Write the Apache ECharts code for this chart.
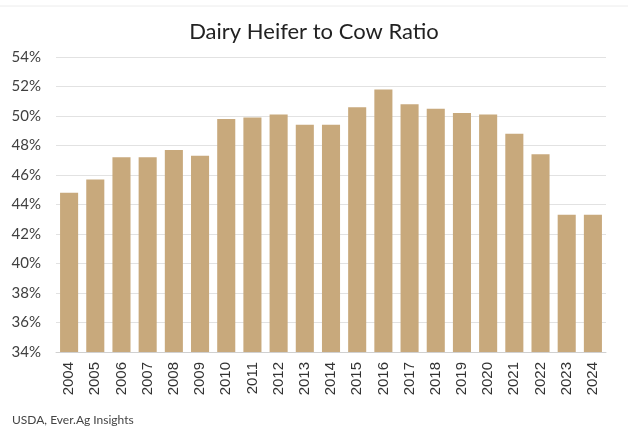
<!DOCTYPE html>
<html>
<head>
<meta charset="utf-8">
<script src="https://cdn.jsdelivr.net/npm/echarts@6/dist/echarts.min.js"></script>
<style>
  html, body { margin: 0; padding: 0; background: #fff; }
  #main { width: 628px; height: 432px; }
</style>
</head>
<body>
<div id="main"></div>
<script>
const years = ['2004', '2005', '2006', '2007', '2008', '2009', '2010', '2011', '2012', '2013',
  '2014', '2015', '2016', '2017', '2018', '2019', '2020', '2021', '2022', '2023', '2024'];
const ratio = [44.8, 45.7, 47.2, 47.2, 47.7, 47.3, 49.8, 49.9, 50.1, 49.4,
  49.4, 50.6, 51.8, 50.8, 50.5, 50.2, 50.1, 48.8, 47.4, 43.3, 43.3];

const chart = echarts.init(document.getElementById('main'));

chart.setOption({
  animation: false,
  title: {
    text: 'Dairy Heifer to Cow Ratio',
    left: 'center',
    top: 16,
    textStyle: { fontFamily: 'Lato', fontSize: 22, fontWeight: 'normal', color: '#222' }
  },
  grid: { left: 56, right: 22, top: 57, bottom: 80, containLabel: false },
  xAxis: {
    type: 'category',
    data: years,
    axisLine: { lineStyle: { color: '#d0d0d0' } },
    axisTick: { show: false },
    axisLabel: {
      rotate: 90,
      margin: 10,
      fontFamily: 'Liberation Sans',
      fontSize: 15,
      color: '#333'
    }
  },
  yAxis: {
    type: 'value',
    min: 34,
    max: 54,
    interval: 2,
    axisLine: { show: false },
    axisTick: { show: false },
    splitLine: { lineStyle: { color: '#e2e2e2', width: 1 } },
    axisLabel: {
      formatter: '{value}%',
      margin: 15,
      fontFamily: 'Lato',
      fontSize: 15,
      color: '#404040'
    }
  },
  series: [{
    type: 'bar',
    data: ratio,
    barWidth: '69%',
    itemStyle: { color: '#c8a97c' }
  }],
  graphic: [{
    type: 'line',
    shape: { x1: 0, y1: 6, x2: 628, y2: 6 },
    style: { stroke: '#ececec', lineWidth: 1 }
  }, {
    type: 'text',
    left: 12,
    top: 414,
    style: { text: 'USDA, Ever.Ag Insights', fontFamily: 'Lato', fontSize: 12, fill: '#444' }
  }]
});
</script>
</body>
</html>
